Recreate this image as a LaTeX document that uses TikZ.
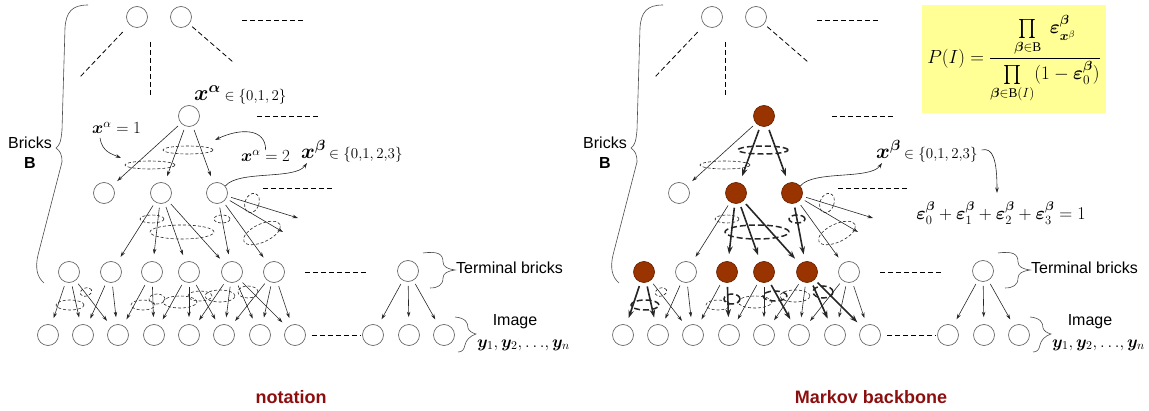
\RequirePackage{fix-cm}
\documentclass[tikz,border=0pt]{standalone}
\usepackage{amsmath,amssymb}
\usepackage{fontspec}
\setmainfont{Liberation Serif}
\setsansfont{Liberation Sans}
\usepackage{bm}
\usetikzlibrary{arrows.meta,calc}
\definecolor{brick}{RGB}{153,51,0}
\definecolor{capred}{RGB}{140,15,15}
\definecolor{formbg}{RGB}{255,255,150}
\definecolor{cgray}{RGB}{105,105,105}
\newcommand\myfs[1]{\fontsize{#1}{#1}\selectfont}
\tikzset{
 bnode/.style={circle,draw=cgray,line width=0.7pt,minimum size=21pt,inner sep=0pt},
 hln/.style={}, hl/.style={}, hle/.style={},
 arr/.style={-{Stealth[length=5.5pt,width=3.5pt]},line width=0.6pt,draw=black!85,shorten <=4pt,shorten >=7pt},
 carr/.style={-{Stealth[length=5.5pt,width=3.5pt]},line width=0.6pt,draw=black!85},
 dl/.style={draw=black,line width=0.8pt,dash pattern=on 5pt off 3pt},
 el/.style={draw=black!85,line width=0.6pt,dash pattern=on 3pt off 2pt},
 brc/.style={draw=black!70,line width=0.6pt},
 txt/.style={inner sep=0pt},
 sftxt/.style={inner sep=0pt,font=\sffamily\myfs{16}},
 panel/.pic={
  \node[bnode] (-t1) at (137,17) {};
  \node[bnode] (-t2) at (181,17) {};
  \node[bnode,hln] (-a) at (189,116) {};
  \node[bnode] (-m1) at (104,193) {};
  \node[bnode,hln] (-m2) at (161,193) {};
  \node[bnode,hln] (-m3) at (217,193) {};
  \foreach \n/\x/\h in {1/69/hln,2/111/,3/152/hln,4/189/hln,5/232/hln,6/274/}
    \node[bnode,\h] (-T\n) at (\x,272) {};
  \node[bnode] (-TT) at (408,271) {};
  \foreach \n/\x in {1/48,2/83,3/118,4/154,5/189,6/224,7/260,8/295,9/373,10/409,11/444}
    \node[bnode] (-I\n) at (\x,335) {};
  \coordinate (-d1) at (80,77);
  \coordinate (-d2a) at (150,42);
  \coordinate (-d2b) at (150,97);
  \coordinate (-d3) at (233,62);
  \coordinate (-f1) at (283,232);
  \coordinate (-f2) at (298,218);
  \draw[dl,shorten <=10pt] (-t1) -- (-d1);
  \draw[dl] (-d2a) -- (-d2b);
  \draw[dl,shorten <=4pt] (-t2) -- (-d3);
  \draw[dl] (242,20) -- (305,20);
  \draw[dl] (257,116) -- (318,116);
  \draw[dl] (263,188) -- (333,188);
  \draw[dl] (305,272) -- (368,272);
  \draw[dl,shorten <=6pt,shorten >=1pt] (-I8) -- (-I9);
  \draw[arr] (-a) -- (-m1);
  \draw[arr,hl] (-a) -- (-m2);
  \draw[arr,hl] (-a) -- (-m3);
  \draw[arr] (-m2) -- (-T2);
  \draw[arr,hl] (-m2) -- (-T3);
  \draw[arr,hl] (-m2) -- (-T4);
  \draw[arr,hl] (-m2) -- (-T5);
  \draw[arr,hl] (-m3) -- (-T5);
  \draw[arr] (-m3) -- (-T6);
  \draw[arr,shorten >=0pt] (-m3) -- (-f1);
  \draw[arr,shorten >=0pt] (-m3) -- (-f2);
  \draw[arr,hl] (-T1) -- (-I1);
  \draw[arr,hl] (-T1) -- (-I2);
  \draw[arr] (-T1) -- (-I3);
  \draw[arr] (-T2) -- (-I2);
  \draw[arr] (-T2) -- (-I3);
  \draw[arr] (-T3) -- (-I3);
  \draw[arr,hl] (-T3) -- (-I4);
  \draw[arr] (-T4) -- (-I4);
  \draw[arr] (-T4) -- (-I5);
  \draw[arr,hl] (-T4) -- (-I6);
  \draw[arr] (-T5) -- (-I5);
  \draw[arr] (-T5) -- (-I6);
  \draw[arr,hl] (-T5) -- (-I7);
  \draw[arr,hl] (-T5) -- (-I8);
  \draw[arr] (-T6) -- (-I6);
  \draw[arr] (-T6) -- (-I7);
  \draw[arr] (-T6) -- (-I8);
  \draw[arr] (-TT) -- (-I9);
  \draw[arr] (-TT) -- (-I10);
  \draw[arr] (-TT) -- (-I11);
  \draw[el,hle] (188,150) ellipse [x radius=25pt,y radius=4pt];
  \draw[el] (150,165) ellipse [x radius=25pt,y radius=4pt];
  \draw[el] (152,219) ellipse [x radius=12pt,y radius=4pt];
  \draw[el,hle] (182,232) ellipse [x radius=32pt,y radius=7pt];
  \draw[el,hle] (222,219) ellipse [x radius=8pt,y radius=4pt];
  \draw[el] (252,203) ellipse [x radius=7pt,y radius=10pt,rotate=-20];
  \draw[el] (262,233) ellipse [x radius=20pt,y radius=9pt,rotate=25];
  \draw[el,hle] (70,305) ellipse [x radius=14pt,y radius=5pt];
  \draw[el] (86,292) ellipse [x radius=6pt,y radius=4pt,rotate=20];
  \draw[el] (143,305) ellipse [x radius=12pt,y radius=5pt];
  \draw[el,hle] (157,299) ellipse [x radius=8pt,y radius=5pt];
  \draw[el] (180,302) ellipse [x radius=17pt,y radius=6pt];
  \draw[el,hle] (200,296) ellipse [x radius=12pt,y radius=5pt];
  \draw[el] (220,296) ellipse [x radius=15pt,y radius=6pt];
  \draw[el,hle] (248,292) ellipse [x radius=10pt,y radius=6pt];
  \draw[brc] (88,5) .. controls (72,5) and (66,12) .. (65,28) -- (62,130) .. controls (61,141) and (60,145) .. (56,148) .. controls (60,151) and (62,154) .. (62,162) -- (38,255) .. controls (35,268) and (37,277) .. (44,283);
  \node[sftxt] (-bl) at (30,143) {Bricks};
  \node[txt,font=\sffamily\bfseries\myfs{16}] (-bb) at (30,163) {B};
  \draw[brc] (423,253) .. controls (438,251) and (443,254) .. (443,262) .. controls (443,267) and (448,269) .. (455,270) .. controls (448,271) and (443,273) .. (443,278) .. controls (443,285) and (438,288) .. (430,288);
  \node[sftxt,anchor=west] (-tl) at (456,268) {Terminal bricks};
  \draw[brc] (455,317) .. controls (465,318) and (468,322) .. (468,328) .. controls (469,331) and (472,333) .. (476,334) .. controls (470,336) and (466,340) .. (465,345) .. controls (464,350) and (462,352) .. (458,352);
  \node[sftxt] (-il) at (515,322) {Image};
  \node[txt,anchor=west] (-yl) at (477,345) {\myfs{17}$\bm{y}_{1}{,}\,\bm{y}_{2}{,}\,{\ldots}{,}\,\bm{y}_{n}$};
  \node[txt,anchor=west] (-xb) at (301,151) {\myfs{21}$\bm{x}^{\bm\beta}$\,\myfs{15}$\in\{0{,}1{,}\,2{,}3\}$};
  \coordinate (-xbp) at (307,163);
  \draw[carr] (-m3.40) .. controls (238,170) and (295,180) .. (-xbp);
 }
}
\begin{document}
\begin{tikzpicture}[x=1pt,y=-1pt]
\useasboundingbox (0,0) rectangle (1149,411);
\begin{scope}
\pic (L) at (0,0) {panel};
\end{scope}
\begin{scope}[hln/.style={fill=brick,draw=brick!70!black},
  hl/.style={line width=1.6pt,-{Stealth[length=8pt,width=5.5pt]}},
  hle/.style={line width=1.5pt,dash pattern=on 6pt off 3pt}]
\pic (R) at (575,0) {panel};
\end{scope}
% left panel labels
\node[txt,anchor=west] (xa) at (194,95) {\myfs{22}$\bm{x}^{\bm\alpha}$\,\myfs{15}$\in\{0{,}1{,}\,2\}$};
\node[txt,anchor=west] (xa1) at (92,128) {\myfs{17}$\bm{x}^{\alpha}=1$};
\node[txt,anchor=west] (xa2) at (241,156) {\myfs{17}$\bm{x}^{\alpha}=2$};
\coordinate (c1e) at (121,158);
\coordinate (c2e) at (215,140);
\draw[carr] ($(xa1.south west)+(8,4)$) .. controls (102,152) and (112,154) .. (c1e);
\draw[carr] (xa2.north) .. controls (266,128) and (240,128) .. (c2e);
% right panel extras
\node[fill=formbg,minimum width=184pt,minimum height=108pt,inner sep=0pt] (F) at (1014,59)
 {\myfs{19}$\displaystyle P(I)=\frac{\prod\limits_{\bm\beta\in\mathrm{B}}\;\bm\varepsilon^{\bm\beta}_{\bm{x}^{\beta}}}{\prod\limits_{\bm\beta\in\mathrm{B}(I)}(1-\bm\varepsilon^{\bm\beta}_{0})}$};
\node[txt] (eq) at (1001,213) {\myfs{18}$\bm\varepsilon^{\bm\beta}_{0}+\bm\varepsilon^{\bm\beta}_{1}+\bm\varepsilon^{\bm\beta}_{2}+\bm\varepsilon^{\bm\beta}_{3}=1$};
\coordinate (eqt) at (997,193);
\draw[carr,shorten <=4pt] (R-xb.east) .. controls (993,147) and (997,160) .. (eqt);
% captions
\node[txt,font=\sffamily\bfseries\myfs{18},text=capred] (cap1) at (291,397) {notation};
\node[txt,font=\sffamily\bfseries\myfs{18},text=capred] (cap2) at (871,397) {Markov backbone};
\end{tikzpicture}
\end{document}
